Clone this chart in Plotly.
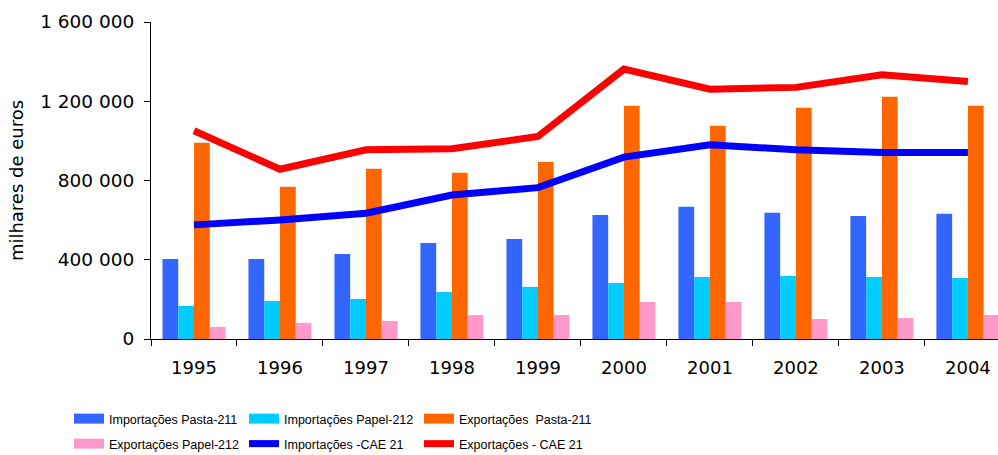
import plotly.graph_objects as go

# Dados (milhares de euros)
anos = ["1995", "1996", "1997", "1998", "1999", "2000", "2001", "2002", "2003", "2004"]
imp_pasta_211 = [404000, 404000, 429000, 485000, 505000, 626000, 667000, 637000, 621000, 632000]
imp_papel_212 = [167000, 192000, 202000, 237000, 263000, 283000, 313000, 318000, 313000, 308000]
exp_pasta_211 = [990000, 768000, 859000, 839000, 894000, 1177000, 1076000, 1167000, 1223000, 1177000]
exp_papel_212 = [61000, 81000, 91000, 121000, 121000, 187000, 187000, 101000, 106000, 121000]
imp_cae_21 = [576000, 601000, 635000, 727000, 764000, 918000, 980000, 955000, 941000, 941000]
exp_cae_21 = [1051000, 857000, 955000, 960000, 1022000, 1362000, 1261000, 1270000, 1334000, 1300000]

bar_series = [
    ("Importações Pasta-211", imp_pasta_211, "#3366FF", "legend"),
    ("Importações Papel-212", imp_papel_212, "#00CCFF", "legend"),
    ("Exportações  Pasta-211", exp_pasta_211, "#FF6600", "legend"),
    ("Exportações Papel-212", exp_papel_212, "#FF99CC", "legend2"),
]
line_series = [
    ("Importações -CAE 21", imp_cae_21, "#0000FF"),
    ("Exportações - CAE 21", exp_cae_21, "#FF0000"),
]

fig = go.Figure()

for nome, vals, cor, leg in bar_series:
    fig.add_trace(go.Bar(x=anos, y=vals, name=nome, marker_color=cor,
                         marker_line_width=0, showlegend=False))

for nome, vals, cor in line_series:
    fig.add_trace(go.Scatter(x=anos, y=vals, name=nome, mode="lines",
                             line=dict(color=cor, width=7), showlegend=False))

# entradas de legenda (rectângulos como no Excel)
for nome, vals, cor, leg in bar_series:
    fig.add_trace(go.Scatter(x=[None], y=[None], name=nome, mode="lines",
                             line=dict(color=cor, width=12), legend=leg))
for nome, vals, cor in line_series:
    fig.add_trace(go.Scatter(x=[None], y=[None], name=nome, mode="lines",
                             line=dict(color=cor, width=7), legend="legend2"))

legend_font = dict(family="Liberation Sans, Arial, sans-serif", size=12.5, color="black")

W, H = 998, 455

fig.update_layout(
    width=W, height=H,
    margin=dict(l=151, r=0, t=22, b=116, autoexpand=False),
    paper_bgcolor="white", plot_bgcolor="white",
    barmode="group", bargap=0.267, bargroupgap=0,
    separators=", ",
    font=dict(family="DejaVu Sans, Verdana, sans-serif", size=18, color="black"),
    legend=dict(orientation="h", xref="container", yref="container",
                x=69 / W, y=1 - 419 / H, xanchor="left", yanchor="middle",
                entrywidth=130, font=legend_font, tracegroupgap=0,
                bgcolor="rgba(0,0,0,0)"),
    legend2=dict(orientation="h", xref="container", yref="container",
                 x=69 / W, y=1 - 444 / H, xanchor="left", yanchor="middle",
                 entrywidth=130, font=legend_font, tracegroupgap=0,
                 bgcolor="rgba(0,0,0,0)"),
)

fig.update_xaxes(
    type="category", range=[-0.5, 9.35], automargin=False,
    showline=True, linecolor="black", linewidth=1,
    ticks="outside", tickson="boundaries", ticklen=6, tickcolor="black",
    ticklabelstandoff=12, showgrid=False, zeroline=False,
)
fig.update_yaxes(
    range=[0, 1600000], dtick=400000, tickformat=",d", automargin=False,
    showline=True, linecolor="black", linewidth=1,
    ticks="outside", ticklen=6, tickcolor="black", ticklabelstandoff=6,
    tickfont=dict(size=18.5),
    showgrid=False, zeroline=False,
    title=dict(text="milhares de euros", font=dict(size=18), standoff=11),
)

# sem a margem de 8px do body, a figura ocupa a janela toda
fig.write_html("out.html", config={"displayModeBar": False},
               post_script="document.body.style.margin='0';document.body.style.overflow='hidden';")
